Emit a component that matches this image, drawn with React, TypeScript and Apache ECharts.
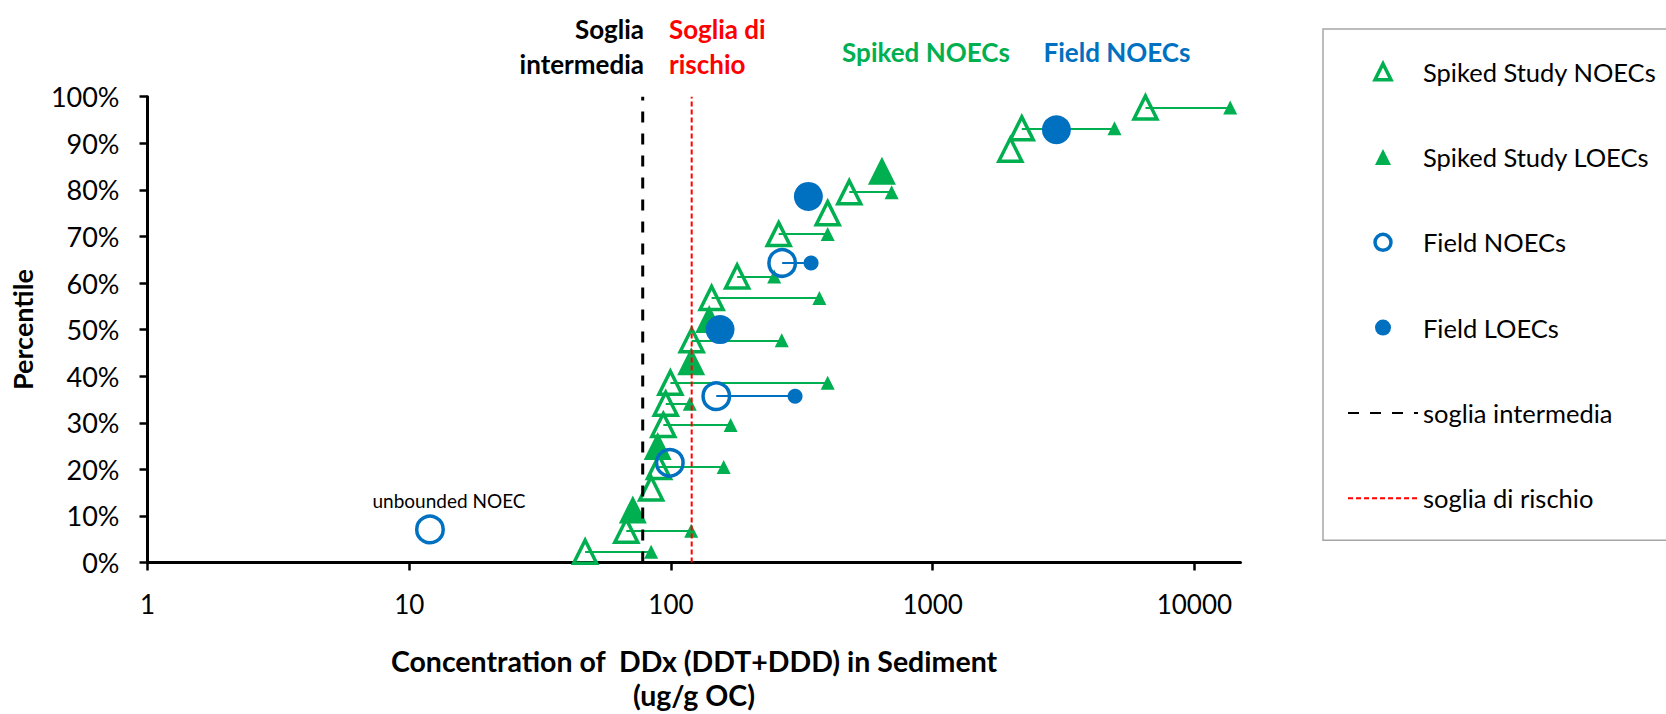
import React, { useEffect, useRef } from "react";
import * as echarts from "echarts";

// ---------- data ----------
const xTickValues = [1, 10, 100, 1000, 10000];

// Spiked study NOECs (open triangles)
const spikedNoecConc = [47, 67.5, 84, 90, 93.5, 95.5, 99.5, 120, 143, 179, 258, 397, 480, 1980, 2190, 6500];
const spikedNoecPct = [2.3, 6.8, 15.9, 20.5, 29.5, 34.1, 38.6, 47.7, 56.8, 61.4, 70.5, 75.0, 79.5, 88.6, 93.2, 97.7];

// Spiked study LOECs paired with a NOEC (small filled triangles)
const spikedLoecConc = [84, 119.5, 159, 169, 118, 397, 265, 369, 248, 397, 697, 4950, 13700];
const spikedLoecPct = [2.3, 6.8, 20.5, 29.5, 34.1, 38.6, 47.7, 56.8, 61.4, 70.5, 79.5, 93.2, 97.7];

// Spiked study LOECs without a NOEC (large filled triangles)
const spikedLoecOnlyConc = [71.5, 89, 119.5, 140, 640];
const spikedLoecOnlyPct = [11.4, 25.0, 43.2, 52.3, 84.1];

// Field NOECs (open circles)
const fieldNoecConc = [12, 99, 149, 266];
const fieldNoecPct = [7.1, 21.4, 35.7, 64.3];

// Field LOECs paired with a NOEC (small filled circles)
const fieldLoecConc = [298, 343];
const fieldLoecPct = [35.7, 64.3];

// Field LOECs without a NOEC (large filled circles)
const fieldLoecOnlyConc = [154, 335, 2970];
const fieldLoecOnlyPct = [50.0, 78.6, 92.9];

// thresholds
const sogliaIntermedia = 78;
const sogliaRischio = 120;

const GREEN = "#00B050";
const BLUE = "#0070C0";
const FONT = "Lato";

const TRI_ICON = "path://M0.5,0L1,1L0,1Z";
const CIRCLE_ICON = "path://M0.5,0A0.5,0.5,0,1,1,0.5,1A0.5,0.5,0,1,1,0.5,0Z";

function pairs(noecX: number[], noecY: number[], loecX: number[], loecY: number[]) {
  const out: any[] = [];
  loecY.forEach((y, i) => {
    const j = noecY.indexOf(y);
    if (j >= 0) out.push({ coords: [[noecX[j], y], [loecX[i], y]] });
  });
  return out;
}

export default function App() {
  const ref = useRef<HTMLDivElement>(null);

  useEffect(() => {
    if (!ref.current) return;
    const chart = echarts.init(ref.current, null, { renderer: "svg" });

    const spikedNoecData = spikedNoecConc.map((c, i) => [c, spikedNoecPct[i]]);
    const spikedLoecData = [
      ...spikedLoecConc.map((c, i) => ({ value: [c, spikedLoecPct[i]], symbolSize: 14 })),
      ...spikedLoecOnlyConc.map((c, i) => ({ value: [c, spikedLoecOnlyPct[i]], symbolSize: 28 })),
    ];
    const fieldNoecData = fieldNoecConc.map((c, i) => [c, fieldNoecPct[i]]);
    const fieldLoecData = [
      ...fieldLoecConc.map((c, i) => ({ value: [c, fieldLoecPct[i]], symbolSize: 15 })),
      ...fieldLoecOnlyConc.map((c, i) => ({ value: [c, fieldLoecOnlyPct[i]], symbolSize: 29 })),
    ];

    const option: any = {
      animation: false,
      backgroundColor: "#fff",
      textStyle: { fontFamily: FONT },
      grid: {
        left: 147.5,
        top: 96.7,
        width: 1093,
        height: 465.8,
        containLabel: false,
        outerBoundsMode: "none",
      },
      legend: {
        orient: "vertical",
        left: 1323,
        top: 29,
        data: [
          { name: "Spiked Study NOECs", icon: TRI_ICON },
          { name: "Spiked Study LOECs", icon: TRI_ICON },
          { name: "Field NOECs", icon: CIRCLE_ICON },
          { name: "Field LOECs", icon: CIRCLE_ICON },
          { name: "soglia intermedia", itemStyle: { opacity: 0, color: "rgba(0,0,0,0)", borderWidth: 0 } },
          { name: "soglia di rischio", itemStyle: { opacity: 0, color: "rgba(0,0,0,0)", borderWidth: 0 } },
        ],
        symbolKeepAspect: true,
        itemWidth: 70,
        itemHeight: 16,
        itemGap: 59.3,
        padding: [29.7, 40, 29, 24],
        borderColor: "#A6A6A6",
        borderWidth: 1.5,
        selectedMode: false,
        textStyle: { fontFamily: FONT, fontSize: 25.5, color: "#000", lineHeight: 26 },
        itemStyle: { borderWidth: "inherit" },
      },
      xAxis: {
        type: "log",
        logBase: 10,
        min: 1,
        max: 15000,
        name: "Concentration of  DDx (DDT+DDD) in Sediment\n(ug/g OC)",
        nameLocation: "middle",
        nameGap: 81,
        nameTextStyle: { fontFamily: FONT, fontSize: 28.5, fontWeight: "bold", color: "#000", lineHeight: 34 },
        axisLine: { show: true, lineStyle: { color: "#000", width: 3 } },
        axisTick: { show: true, length: 8, lineStyle: { color: "#000", width: 2.5 }, customValues: xTickValues },
        axisLabel: {
          fontFamily: FONT,
          fontSize: 26,
          color: "#000",
          margin: 28,
          customValues: xTickValues,
          formatter: (v: number) => String(Math.round(v)),
        },
        splitLine: { show: false },
        minorTick: { show: false },
      },
      yAxis: {
        type: "value",
        min: 0,
        max: 100,
        interval: 10,
        name: "Percentile",
        nameLocation: "middle",
        nameGap: 112,
        nameRotate: 90,
        nameTextStyle: { fontFamily: FONT, fontSize: 27, fontWeight: "bold", color: "#000" },
        axisLine: { show: true, lineStyle: { color: "#000", width: 3 } },
        axisTick: { show: true, length: 8, lineStyle: { color: "#000", width: 2.5 } },
        axisLabel: { fontFamily: FONT, fontSize: 27, color: "#000", margin: 28, formatter: "{value}%" },
        splitLine: { show: false },
      },
      graphic: [
        {
          type: "text",
          x: 644,
          y: 11,
          style: { text: "Soglia\nintermedia", fill: "#000", font: `bold 26px ${FONT}`, textAlign: "right", textVerticalAlign: "top", lineHeight: 35 },
        },
        {
          type: "text",
          x: 669,
          y: 11,
          style: { text: "Soglia di\nrischio", fill: "#FF0000", font: `bold 26px ${FONT}`, textAlign: "left", textVerticalAlign: "top", lineHeight: 35 },
        },
        {
          type: "text",
          x: 926,
          y: 52,
          style: { text: "Spiked NOECs", fill: GREEN, font: `bold 26px ${FONT}`, textAlign: "center", textVerticalAlign: "middle" },
        },
        {
          type: "text",
          x: 1117,
          y: 52,
          style: { text: "Field NOECs", fill: BLUE, font: `bold 26px ${FONT}`, textAlign: "center", textVerticalAlign: "middle" },
        },
        {
          type: "text",
          x: 449,
          y: 500,
          style: { text: "unbounded NOEC", fill: "#000", font: `19px ${FONT}`, textAlign: "center", textVerticalAlign: "middle" },
        },
      ],
      series: [
        {
          name: "spikedBars",
          type: "lines",
          coordinateSystem: "cartesian2d",
          silent: true,
          z: 1,
          lineStyle: { color: GREEN, width: 2, opacity: 1 },
          data: pairs(spikedNoecConc, spikedNoecPct, spikedLoecConc, spikedLoecPct),
        },
        {
          name: "fieldBars",
          type: "lines",
          coordinateSystem: "cartesian2d",
          silent: true,
          z: 1,
          lineStyle: { color: BLUE, width: 2, opacity: 1 },
          data: pairs(fieldNoecConc, fieldNoecPct, fieldLoecConc, fieldLoecPct),
        },
        {
          name: "Spiked Study NOECs",
          type: "scatter",
          z: 2,
          symbol: "triangle",
          symbolSize: 23,
          itemStyle: { color: "rgba(0,0,0,0)", borderColor: GREEN, borderWidth: 3.5, opacity: 1 },
          data: spikedNoecData,
        },
        {
          name: "Spiked Study LOECs",
          type: "scatter",
          z: 2,
          symbol: "triangle",
          itemStyle: { color: GREEN, borderWidth: 0, opacity: 1 },
          data: spikedLoecData,
        },
        {
          name: "Field NOECs",
          type: "scatter",
          z: 3,
          symbol: "circle",
          symbolSize: 26.5,
          itemStyle: { color: "rgba(0,0,0,0)", borderColor: BLUE, borderWidth: 3.5, opacity: 1 },
          data: fieldNoecData,
        },
        {
          name: "Field LOECs",
          type: "scatter",
          z: 3,
          symbol: "circle",
          itemStyle: { color: BLUE, borderWidth: 0, opacity: 1 },
          data: fieldLoecData,
        },
        {
          name: "soglia intermedia",
          type: "line",
          z: 4,
          symbol: "none",
          silent: true,
          color: "#000",
          lineStyle: { color: "#000", width: 3, type: [11, 11] },
          data: [
            [sogliaIntermedia, 0],
            [sogliaIntermedia, 100],
          ],
        },
        {
          name: "soglia di rischio",
          type: "line",
          z: 4,
          symbol: "none",
          silent: true,
          color: "#FF0000",
          lineStyle: { color: "#FF0000", width: 2, type: [5, 3] },
          data: [
            [sogliaRischio, 0],
            [sogliaRischio, 100],
          ],
        },
      ],
    };

    chart.setOption(option);
    return () => chart.dispose();
  }, []);

  return (
    <div
      ref={ref}
      style={{ position: "absolute", left: 0, top: 0, width: 1666, height: 714, background: "#fff" }}
    />
  );
}
